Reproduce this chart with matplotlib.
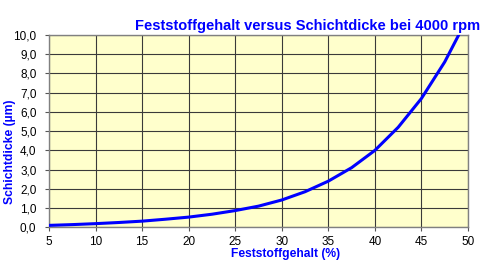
import matplotlib
matplotlib.use('Agg')
import matplotlib.pyplot as plt

# Feststoffgehalt (%) vs Schichtdicke (um)
feststoff = [5, 7.5, 10, 12.5, 15, 17.5, 20, 22.5, 25, 27.5, 30, 32.5,
             35, 37.5, 40, 42.5, 45, 47.5, 49]
schicht = [0.10, 0.14, 0.19, 0.25, 0.32, 0.42, 0.53, 0.68, 0.87, 1.10, 1.42,
           1.85, 2.40, 3.10, 4.00, 5.20, 6.70, 8.60, 10.0]

x_ticks = [5, 10, 15, 20, 25, 30, 35, 40, 45, 50]
y_ticks = [0, 1, 2, 3, 4, 5, 6, 7, 8, 9, 10]

plt.rcParams['font.family'] = ['Liberation Sans', 'DejaVu Sans']

fig = plt.figure(figsize=(4.88, 2.61), dpi=100)
ax = fig.add_axes([49 / 488, 1 - 227.3 / 261, 419 / 488, 192.3 / 261])
ax.set_facecolor('#FFFFCC')

ax.plot(feststoff, schicht, color='#0000FF', lw=2.2, solid_capstyle='round', zorder=3)

ax.set_xlim(5, 50)
ax.set_ylim(0, 10)
ax.set_xticks(x_ticks)
ax.set_yticks(y_ticks)
ax.yaxis.set_major_formatter(plt.FuncFormatter(lambda v, p: ('%.1f' % v).replace('.', ',')))
ax.tick_params(labelsize=8.5, length=3, width=0.8, color='#555555')
ax.tick_params(axis='y', pad=6)
ax.tick_params(axis='x', pad=3)
ax.grid(True, color='#3a3a3a', lw=0.8)
ax.set_axisbelow(True)
for s in ax.spines.values():
    s.set_color('#808080')
    s.set_linewidth(1)

fig.text(480 / 488, 1 - 26 / 261, 'Feststoffgehalt versus Schichtdicke bei 4000 rpm',
         ha='right', va='center', color='#0000FF', fontsize=10.5, fontweight='bold')
fig.text(286 / 488, 1 - 254 / 261, 'Feststoffgehalt (%)', ha='center', va='center',
         color='#0000FF', fontsize=8.7, fontweight='bold')
fig.text(10 / 488, 1 - 152 / 261, 'Schichtdicke (µm)', ha='center', va='center',
         rotation=90, color='#0000FF', fontsize=8.7, fontweight='bold')

fig.savefig('out.png', dpi=100)
